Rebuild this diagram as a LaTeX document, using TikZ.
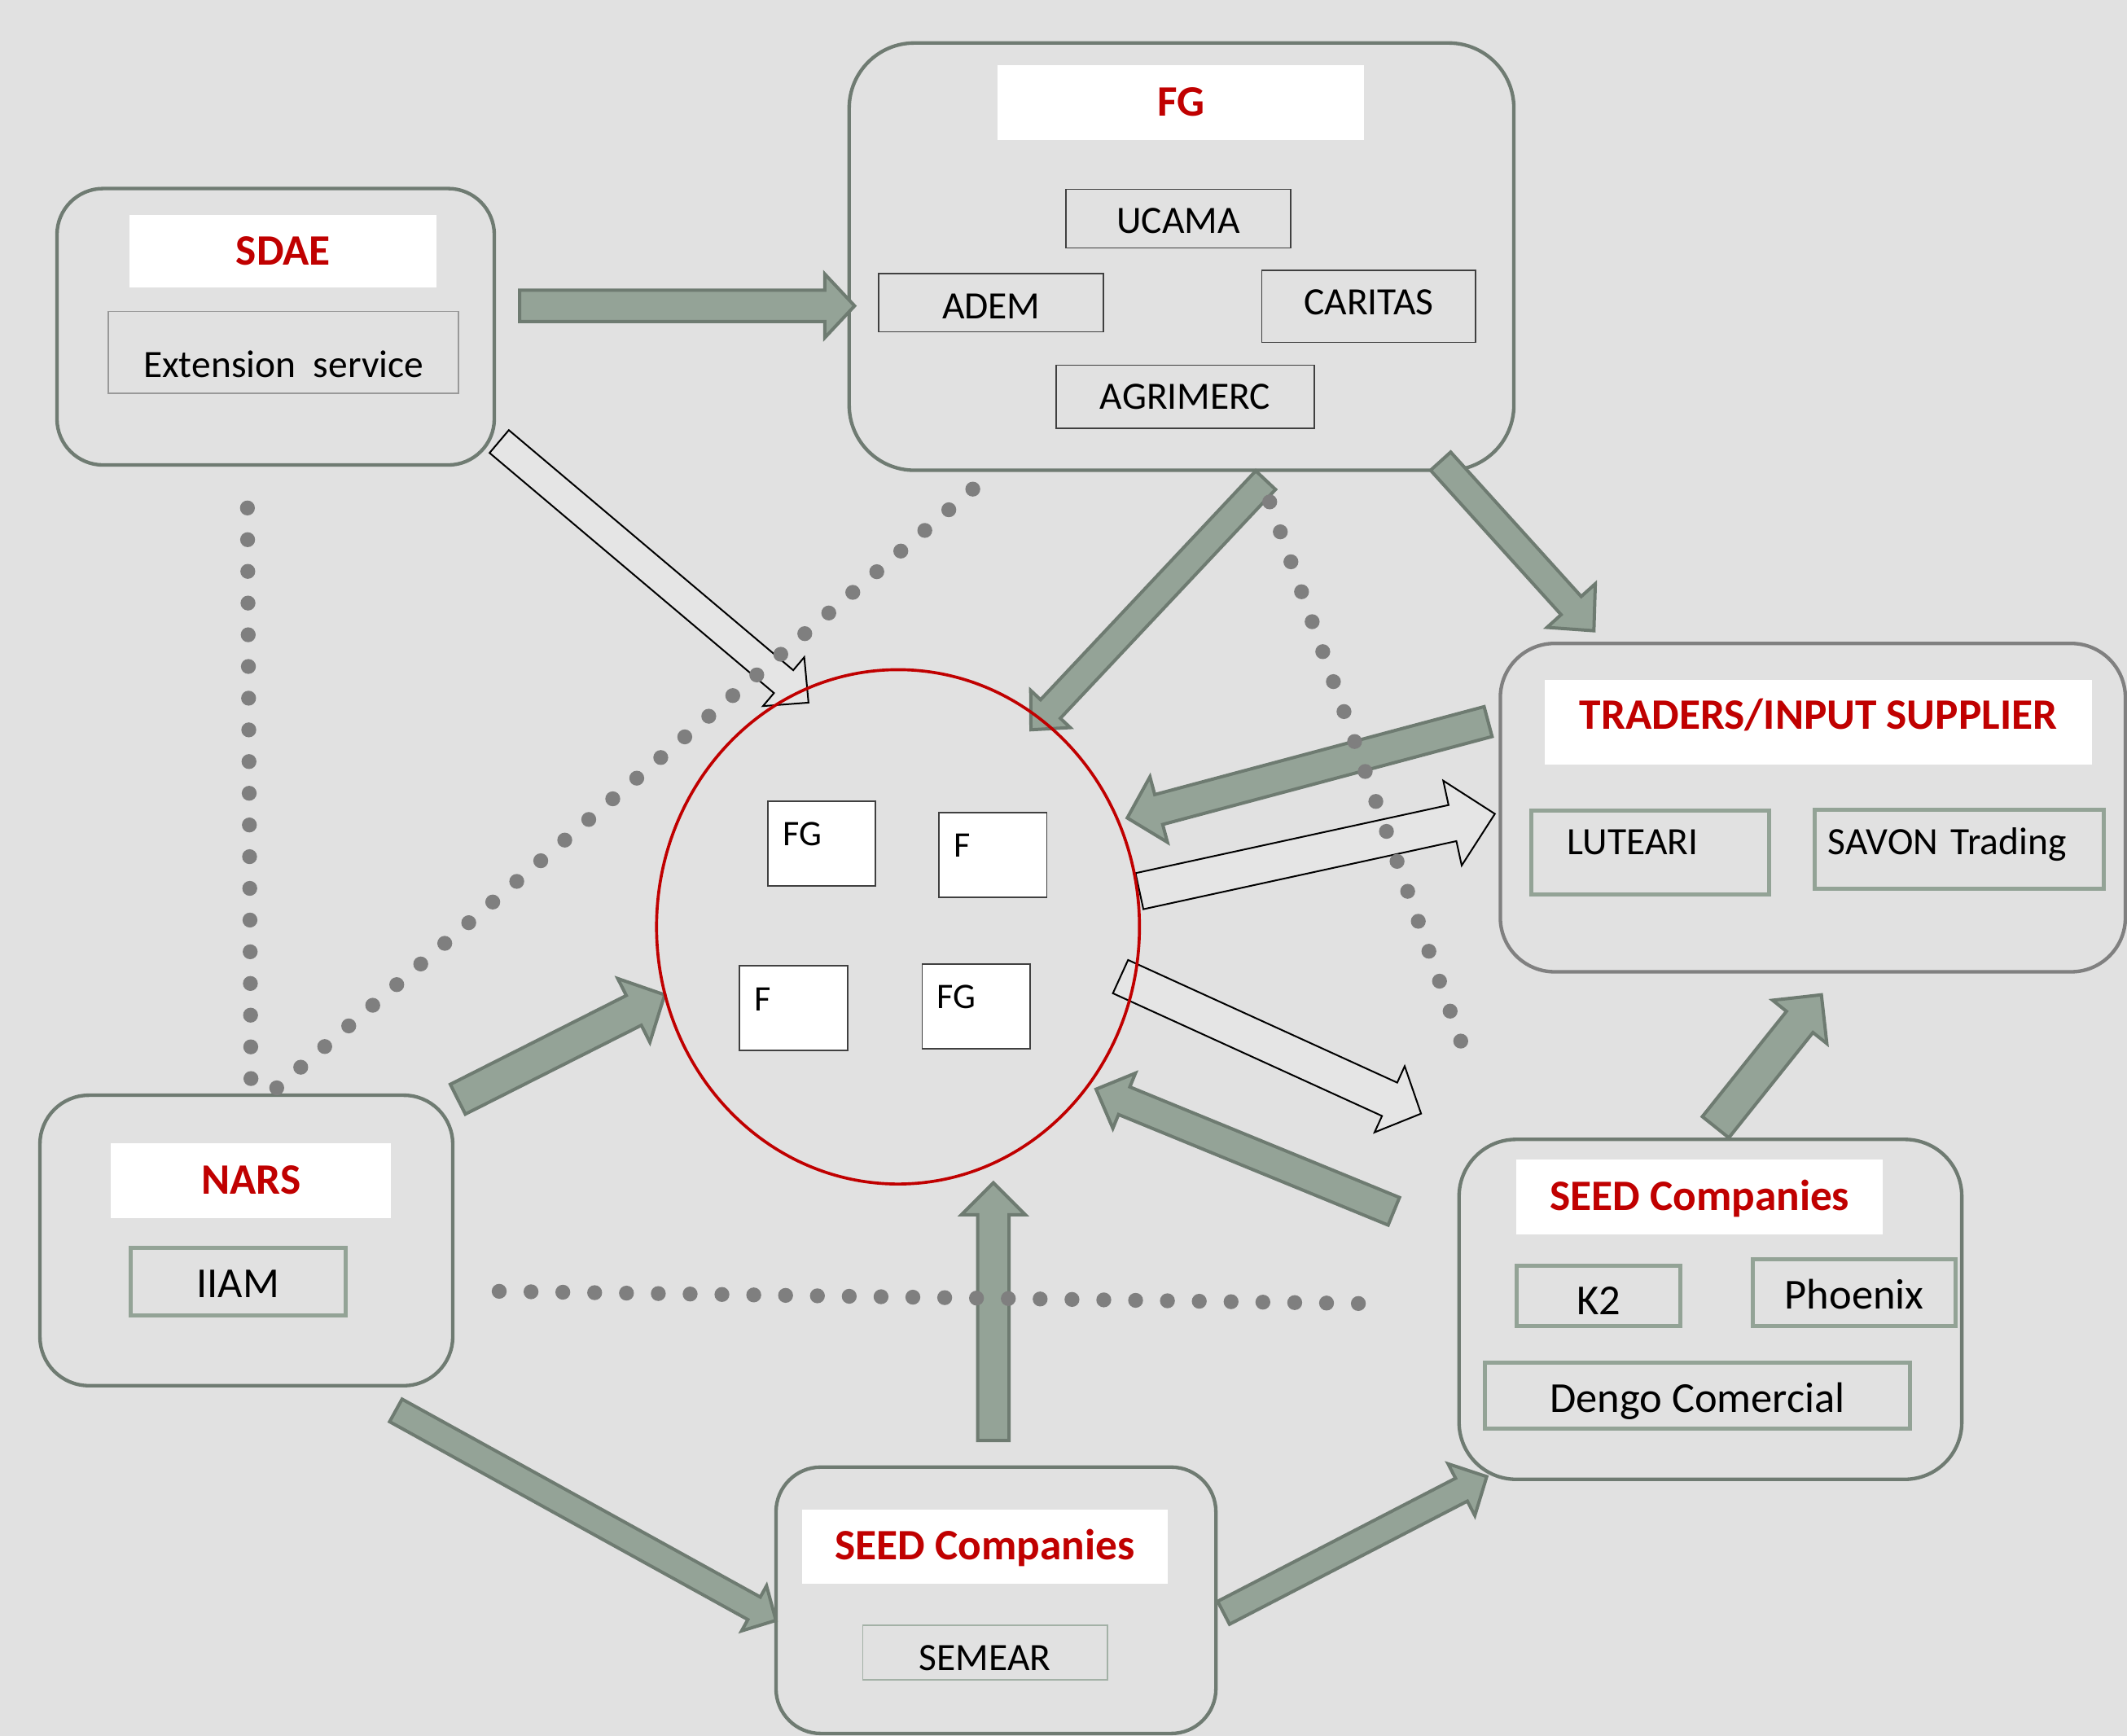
\documentclass[tikz,border=0pt]{standalone}
\usepackage{fontspec}
\setmainfont{Carlito}
\usepackage{xcolor}
\usepackage{tikz}
\usetikzlibrary{calc,shapes.geometric}
\definecolor{paperGray}{HTML}{E1E1E1}
\definecolor{openFill}{HTML}{E5E5E5}
\definecolor{frameGray}{HTML}{6F7B72}
\definecolor{traderGray}{HTML}{808080}
\definecolor{sageFill}{HTML}{94A397}
\definecolor{sageLine}{HTML}{6E7B71}
\definecolor{memberSage}{HTML}{93A396}
\definecolor{titleRed}{HTML}{C00000}
\definecolor{dotGray}{HTML}{7F7F7F}

\newcommand{\fatarrow}[6][]{%
  \coordinate (fa-base) at ($(#3)!#6!(#2)$);
  \draw[#1] ($(#2)!#4!90:(#3)$) -- ($(fa-base)!#4!-90:(#2)$)
    -- ($(fa-base)!#5!-90:(#2)$) -- (#3)
    -- ($(fa-base)!#5!90:(#2)$) -- ($(fa-base)!#4!90:(#2)$)
    -- ($(#2)!#4!-90:(#3)$) -- cycle;
}

\begin{document}
\begin{tikzpicture}[
  x=1pt, y=-1pt,
  groupbox/.style={draw=frameGray, line width=2.6pt, rounded corners=#1, inner sep=0pt},
  titlebox/.style={fill=white, text=titleRed, inner sep=0pt, text height=20pt, text depth=0pt,
                   font=\fontsize{32}{38}\selectfont\bfseries},
  memberbox/.style={draw=black!75, line width=1pt, inner sep=0pt, text height=18pt, text depth=0pt,
                    font=\fontsize{28.5}{34}\selectfont},
  sagebox/.style={draw=memberSage, line width=3pt, inner sep=0pt, text height=20pt, text depth=0pt,
                  font=\fontsize{31.5}{38}\selectfont},
  farmbox/.style={draw=black!75, fill=white, line width=1pt, minimum width=79.5pt, minimum height=62.5pt,
                  inner xsep=11pt, inner ysep=0pt, text width=57.5pt, align=left,
                  text height=19pt, text depth=15.4pt, font=\fontsize{26.5}{32}\selectfont},
  fatarr/.style={fill=sageFill, draw=sageLine, line width=2.4pt},
  openarr/.style={fill=openFill, draw=black, line width=1.2pt},
  dotlink/.style={draw=dotGray, line width=11pt, line cap=round, dash pattern=on 0pt off #1}
]
\useasboundingbox (0,0) rectangle (1568,1279.8);
\fill[paperGray] (0,0) rectangle (1568,1279.8);

\node[groupbox=34pt, minimum width=322.4pt, minimum height=203.8pt] (sdae) at (203.2,240.9) {};
\node[groupbox=48pt, minimum width=490pt, minimum height=315pt] (fg) at (871,189.2) {};
\node[groupbox=40pt, draw=traderGray, minimum width=460.8pt, minimum height=242.1pt] (traders) at (1336.4,595.4) {};
\node[groupbox=36pt, minimum width=304.3pt, minimum height=214.1pt] (nars) at (181.6,914.5) {};
\node[groupbox=42pt, minimum width=370.6pt, minimum height=250.6pt] (seedRight) at (1260.9,965.3) {};
\node[groupbox=33pt, minimum width=324.3pt, minimum height=196.4pt] (seedBottom) at (734.2,1179.8) {};

\node[titlebox, minimum width=226.5pt, minimum height=53.2pt] (sdaeTitle) at (208.8,185.1) {SDAE};
\node[titlebox, minimum width=270pt, minimum height=55.2pt] (fgTitle) at (870.5,75.4) {FG};
\node[titlebox, minimum width=403.8pt, minimum height=62.4pt, text depth=10pt] (tradersTitle) at (1340.5,532.5) {TRADERS/INPUT SUPPLIER};
\node[titlebox, minimum width=206.2pt, minimum height=55.1pt] (narsTitle) at (185,870.4) {NARS};
\node[titlebox, minimum width=270.1pt, minimum height=55pt] (seedRightTitle) at (1253,882.4) {SEED Companies};
\node[titlebox, minimum width=269.8pt, minimum height=54.6pt] (seedBottomTitle) at (726,1140) {SEED Companies};

\node[memberbox, draw=black!40, minimum width=258pt, minimum height=60.5pt, text height=36.5pt] (ext) at (209,259.8) {Extension\ \ service};
\node[memberbox, minimum width=165.8pt, minimum height=43.3pt, text height=22pt] (ucama) at (868.6,161.2) {UCAMA};
\node[memberbox, minimum width=165.7pt, minimum height=43pt, text height=24pt] (adem) at (730.7,223.2) {ADEM};
\node[memberbox, minimum width=157.8pt, minimum height=52.9pt, text depth=6pt] (caritas) at (1009,225.9) {CARITAS};
\node[memberbox, minimum width=190.5pt, minimum height=46.5pt] (agrimerc) at (873.8,292.4) {AGRIMERC};
\node[sagebox, font=\fontsize{28.5}{34}\selectfont, minimum width=175pt, minimum height=62pt,
      inner xsep=26.5pt, text width=122pt, align=left, text height=18pt, text depth=14.6pt] (luteari) at (1216.5,628.3) {LUTEARI};
\node[sagebox, font=\fontsize{28.5}{34}\selectfont, minimum width=213.5pt, minimum height=58.3pt,
      inner xsep=10pt, text width=193.5pt, align=left, text height=18pt, text depth=10pt] (savon) at (1444.3,626.3) {SAVON Trading};
\node[sagebox, minimum width=158.5pt, minimum height=50pt, text height=23pt] (iiam) at (175.3,944.9) {IIAM};
\node[sagebox, minimum width=121pt, minimum height=44.6pt, text height=28pt] (k2) at (1178.4,955.2) {K2};
\node[sagebox, minimum width=149.2pt, minimum height=49pt, text height=24pt] (phoenix) at (1367,953) {Phoenix};
\node[sagebox, minimum width=313.3pt, minimum height=48.6pt, text height=25pt] (dengo) at (1251.3,1028.8) {Dengo Comercial};
\node[memberbox, draw=memberSage!85, minimum width=180.3pt, minimum height=40.4pt, text height=26pt] (semear) at (726.2,1218.4) {SEMEAR};

\coordinate (sdaeOut) at (383,225.5);      \coordinate (fgIn) at (630,225.5);
\coordinate (fgOutA) at (933,354);         \coordinate (farmsInA) at (760,538);
\coordinate (fgOutB) at (1062,340);        \coordinate (tradersInA) at (1175,465);
\coordinate (tradersOut) at (1097,532);    \coordinate (farmsInB) at (831,603);
\coordinate (farmsOutA) at (840,657);      \coordinate (tradersInB) at (1102,600);
\coordinate (sdaeOutB) at (368,325.5);     \coordinate (farmsInC) at (596,518);
\coordinate (farmsOutB) at (826,720);      \coordinate (seedRightIn) at (1047.6,821);
\coordinate (seedRightOut) at (1027.5,893);\coordinate (farmsInD) at (808,803);
\coordinate (narsOutA) at (337.5,810.4);   \coordinate (farmsInE) at (490,733.4);
\coordinate (seedBottomOut) at (732.3,1062);\coordinate (farmsInF) at (732.3,872);
\coordinate (narsOutB) at (291.8,1039.8);  \coordinate (seedBottomIn) at (572,1194.6);
\coordinate (seedBottomOutB) at (902,1189);\coordinate (seedRightInB) at (1096,1088.6);
\coordinate (seedRightOutB) at (1264.7,831);\coordinate (tradersInC) at (1342.7,733.4);

\fatarrow[fatarr]{sdaeOut}{fgIn}{11.5pt}{23.5pt}{22pt}
\fatarrow[fatarr]{fgOutA}{farmsInA}{10pt}{20pt}{21pt}
\fatarrow[fatarr]{fgOutB}{tradersInA}{10pt}{24pt}{25pt}
\fatarrow[fatarr]{tradersOut}{farmsInB}{11.4pt}{25pt}{24pt}
\fatarrow[openarr]{farmsOutA}{tradersInB}{13.6pt}{32pt}{32pt}
\fatarrow[openarr]{sdaeOutB}{farmsInC}{11pt}{23.6pt}{24pt}
\fatarrow[openarr]{farmsOutB}{seedRightIn}{13.5pt}{26.8pt}{25.5pt}
\fatarrow[fatarr]{seedRightOut}{farmsInD}{11pt}{22pt}{22.4pt}
\fatarrow[fatarr]{narsOutA}{farmsInE}{12.3pt}{26.3pt}{25.5pt}
\fatarrow[fatarr]{seedBottomOut}{farmsInF}{11.5pt}{23.5pt}{23.5pt}
\fatarrow[fatarr]{narsOutB}{seedBottomIn}{9.5pt}{19pt}{18.4pt}
\fatarrow[fatarr]{seedBottomOutB}{seedRightInB}{9.5pt}{21.5pt}{21pt}
\fatarrow[fatarr]{seedRightOutB}{tradersInC}{12.5pt}{25.6pt}{25.6pt}

\node[ellipse, draw=titleRed, line width=2.2pt, minimum width=356pt, minimum height=379.2pt, inner sep=0pt] (farms) at (662,683.3) {};
\node[farmbox] (farmA) at (605.7,621.9) {FG};
\node[farmbox] (farmB) at (732,630.3) {F};
\node[farmbox] (farmC) at (585,743.2) {F};
\node[farmbox] (farmD) at (719.6,741.9) {FG};

\coordinate (sdaeDot) at (182.4,374.5);    \coordinate (narsDotA) at (185,795.5);
\coordinate (narsDotB) at (204,802);       \coordinate (fgDotA) at (717.6,360.2);
\coordinate (fgDotB) at (936,370);         \coordinate (seedRightDotA) at (1077,768);
\coordinate (narsDotC) at (368,952);       \coordinate (seedRightDotB) at (1002,961);
\draw[dotlink=23.37pt] (sdaeDot) -- (narsDotA);
\draw[dotlink=23.34pt] (narsDotB) -- (fgDotA);
\draw[dotlink=23.43pt] (fgDotB) -- (seedRightDotA);
\draw[dotlink=23.46pt] (narsDotC) -- (seedRightDotB);
\end{tikzpicture}
\end{document}
